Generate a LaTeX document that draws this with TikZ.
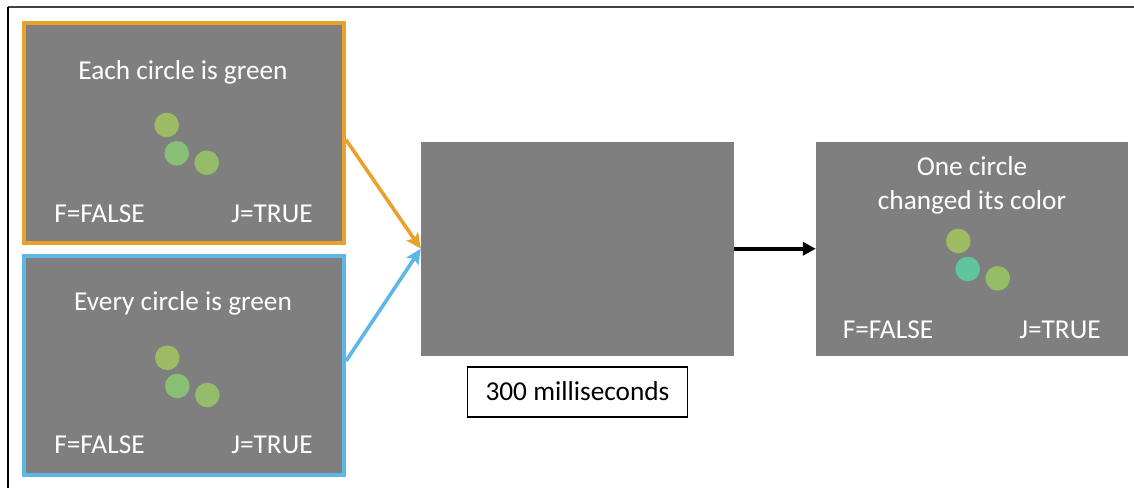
\documentclass[tikz,border=0pt]{standalone}
\usepackage{fontspec}
\setmainfont{Carlito}
\usetikzlibrary{arrows.meta,calc}

\definecolor{panelgray}{HTML}{7F7F7F}
\definecolor{cueorange}{HTML}{E8A12B}
\definecolor{cueblue}{HTML}{5DB6E6}
\definecolor{dotA}{HTML}{9DBB62}
\definecolor{dotB}{HTML}{88BF74}
\definecolor{dotC}{HTML}{95BC68}
\definecolor{dotTeal}{HTML}{60C49C}

\tikzset{
  panel/.style={rectangle, fill=panelgray, inner sep=0pt},
  label/.style={font=\fontsize{27.3}{32}\selectfont, text=white, anchor=base, inner sep=0pt},
  dot/.style={circle, inner sep=0pt, minimum size=24.6pt},
  cue/.style={line width=3.6pt, -{Stealth[length=15pt,width=14pt,inset=3pt]}},
}

\begin{document}
\begin{tikzpicture}[x=1pt,y=-1pt]
\useasboundingbox (0,0) rectangle (1134,488);

% frame edges
\draw[line width=1.3pt, black!75] (8,7) -- (1134,7);
\draw[line width=1.3pt, black] (8,7) -- (8,488);

% cue panels
\node[panel, draw=cueorange, line width=4pt, minimum width=320pt, minimum height=220pt] (cueA) at (184,133) {};
\node[panel, draw=cueblue, line width=4pt, minimum width=320pt, minimum height=219pt] (cueB) at (184,365.5) {};

% blank interval and probe
\node[panel, minimum width=313pt, minimum height=213.5pt] (blank) at (577.5,248.75) {};
\node[panel, minimum width=312pt, minimum height=213.5pt] (probe) at (972,248.75) {};

% timing box
\node[draw=black, line width=1.5pt, minimum width=220pt, minimum height=50pt, inner sep=0pt] (timing) at (577.5,391.75) {};
\node[label, text=black] (timingtxt) at (577.5,400) {300 milliseconds};

% texts in the cue panels
\node[label] (sentA) at (183,79) {Each circle is green};
\node[label] (falseA) at (99.5,222) {F=FALSE};
\node[label] (trueA) at (272,222) {J=TRUE};
\node[label] (sentB) at (183,310.7) {Every circle is green};
\node[label] (falseB) at (99.5,453) {F=FALSE};
\node[label] (trueB) at (272,453) {J=TRUE};

% texts in the probe panel
\node[label] (probe1) at (972,175.7) {One circle};
\node[label] (probe2) at (972,209) {changed its color};
\node[label] (falseC) at (888,338) {F=FALSE};
\node[label] (trueC) at (1060,338) {J=TRUE};

% circles
\node[dot, fill=dotA] (a1) at (166.7,125) {};
\node[dot, fill=dotB] (a2) at (176.7,153.3) {};
\node[dot, fill=dotC] (a3) at (206.7,162.7) {};
\node[dot, fill=dotA] (b1) at (167.3,357.7) {};
\node[dot, fill=dotB] (b2) at (177.3,386) {};
\node[dot, fill=dotC] (b3) at (207.3,395) {};
\node[dot, fill=dotA] (c1) at (958.3,241) {};
\node[dot, fill=dotTeal] (c2) at (967.7,269) {};
\node[dot, fill=dotC] (c3) at (997.7,278.3) {};

% connectors
\draw[cue, cueorange] ($(cueA.north east)!0.53!(cueA.south east)$) -- (blank.west);
\draw[cue, cueblue] ($(cueB.north east)!0.48!(cueB.south east)$) -- (blank.west);
\draw[line width=4pt, black, -{Triangle[length=13pt,width=13pt]}] (blank.east) -- (probe.west);
\end{tikzpicture}
\end{document}
